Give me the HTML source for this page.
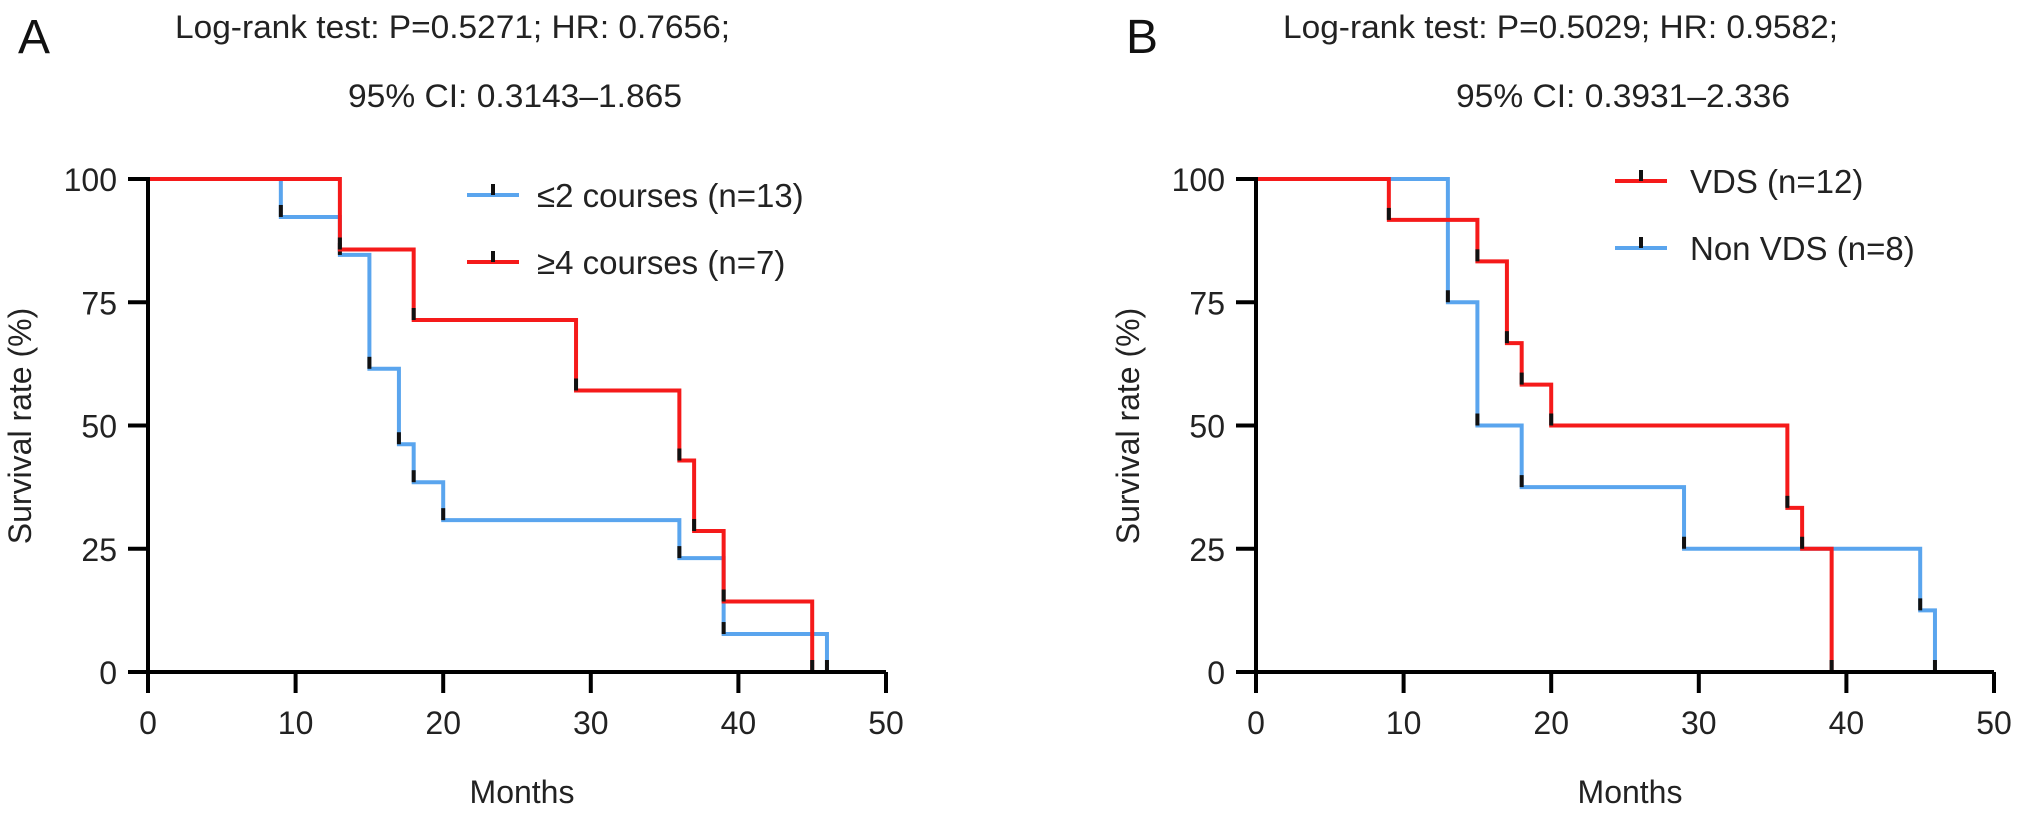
<!DOCTYPE html>
<html><head><meta charset="utf-8"><style>
html,body{margin:0;padding:0;background:#fff;}
svg{display:block;font-family:"Liberation Sans",Arial,sans-serif;}
</style></head><body>
<svg id="fig" width="2032" height="816" viewBox="0 0 2032 816" xmlns="http://www.w3.org/2000/svg"></svg>
<script>
// Panel A data
const monthTicks = [0,10,20,30,40,50];
const survTicks = [0,25,50,75,100];
const aBlueTimes = [0,9,13,15,17,18,20,36,39,46];
const aBlueSurv  = [100,92.3,84.6,61.5,46.2,38.5,30.8,23.1,7.7,0];
const aRedTimes  = [0,13,18,29,36,37,39,45];
const aRedSurv   = [100,85.7,71.4,57.1,42.9,28.6,14.3,0];
// Panel B data
const bRedTimes  = [0,9,15,17,18,20,36,37,39];
const bRedSurv   = [100,91.7,83.3,66.7,58.3,50,33.3,25,0];
const bBlueTimes = [0,13,15,18,29,45,46];
const bBlueSurv  = [100,75,50,37.5,25,12.5,0];

const NS='http://www.w3.org/2000/svg';
const svg=document.getElementById('fig');
const BLUE='#5aa5ee', RED='#f51a1a';
function el(tag,attrs,parent){const e=document.createElementNS(NS,tag);for(const k in attrs)e.setAttribute(k,attrs[k]);(parent||svg).appendChild(e);return e;}
function txt(s,attrs,parent){const e=el('text',attrs,parent);e.textContent=s;return e;}

function panel(cfg){
  const g=el('g',{});
  
  
  const x0=cfg.x0, x1=cfg.x0+738, yTop=179, yBot=672;
  const sx=m=>x0+m/50*(x1-x0);
  const sy=v=>yBot-v/100*(yBot-yTop);
  let t=txt(cfg.letter,{x:cfg.x0-130,y:53,'font-size':48,fill:'#111'},g);
  
  
  t=txt(cfg.t1,{x:cfg.x0+27,y:38,'font-size':32,fill:'#222',textLength:555,lengthAdjust:'spacingAndGlyphs'},g);
  
  
  t=txt(cfg.t2,{x:cfg.x0+200,y:107,'font-size':32,fill:'#222',textLength:334,lengthAdjust:'spacingAndGlyphs'},g);
  
  
  // curves
  cfg.series.forEach(s=>{
    let d='M'+sx(0)+','+sy(s.surv[0]);
    for(let i=1;i<s.times.length;i++){d+=' H'+sx(s.times[i])+' V'+sy(s.surv[i]);}
    const p=el('path',{d:d,fill:'none',stroke:s.color,'stroke-width':4},g);
    
    
    for(let i=1;i<s.times.length;i++){
      const m=el('line',{x1:sx(s.times[i]),x2:sx(s.times[i]),y1:sy(s.surv[i]),y2:sy(s.surv[i])-12,stroke:'#111','stroke-width':4},g);
      
      
    }
  });
  // axes
  let a=el('line',{x1:x0,x2:x0,y1:yTop-2,y2:yBot+2,stroke:'#000','stroke-width':4},g);
  
  
  a=el('line',{x1:x0-20,x2:x1,y1:yBot,y2:yBot,stroke:'#000','stroke-width':4},g);
  
  
  survTicks.forEach(v=>{
    const l=el('line',{x1:x0-20,x2:x0,y1:sy(v),y2:sy(v),stroke:'#000','stroke-width':4},g);
    
    
    const tt=txt(String(v),{x:x0-31,y:sy(v)+12,'font-size':32,'text-anchor':'end',fill:'#222'},g);
    
    
  });
  monthTicks.forEach(m=>{
    const l=el('line',{x1:sx(m),x2:sx(m),y1:yBot,y2:yBot+21,stroke:'#000','stroke-width':4},g);
    
    
    const tt=txt(String(m),{x:sx(m),y:734,'font-size':32,'text-anchor':'middle',fill:'#222'},g);
    
    
  });
  t=txt('Months',{x:(x0+x1)/2+5,y:803,'font-size':32,'text-anchor':'middle',fill:'#222'},g);
  
  
  const cy=426, cx=cfg.x0-117;
  t=txt('Survival rate (%)',{x:cx,y:cy,'font-size':32,'text-anchor':'middle',fill:'#222',transform:'rotate(-90 '+cx+' '+cy+')'},g);
  
  
  // legend
  cfg.legend.forEach((L,i)=>{
    const y=L.y;
    const lg=el('g',{},g);
    
    
    el('line',{x1:L.x,x2:L.x+52,y1:y,y2:y,stroke:L.color,'stroke-width':4},lg);
    el('line',{x1:L.x+26,x2:L.x+26,y1:y,y2:y-11,stroke:'#111','stroke-width':4},lg);
    txt(L.label,{x:L.x+L.gap,y:y+12,'font-size':33,fill:'#222'},lg);
  });
}

panel({name:'panel-a',letter:'A',x0:148,t1:'Log-rank test: P=0.5271; HR: 0.7656;',t2:'95% CI: 0.3143\u20131.865',
  series:[{id:'le2-courses',times:aBlueTimes,surv:aBlueSurv,color:BLUE},{id:'ge4-courses',times:aRedTimes,surv:aRedSurv,color:RED}],
  legend:[{x:467,y:195,color:BLUE,label:'\u22642 courses (n=13)',gap:70},{x:467,y:262,color:RED,label:'\u22654 courses (n=7)',gap:70}]});
panel({name:'panel-b',letter:'B',x0:1256,t1:'Log-rank test: P=0.5029; HR: 0.9582;',t2:'95% CI: 0.3931\u20132.336',
  series:[{id:'non-vds',times:bBlueTimes,surv:bBlueSurv,color:BLUE},{id:'vds',times:bRedTimes,surv:bRedSurv,color:RED}],
  legend:[{x:1615,y:181,color:RED,label:'VDS (n=12)',gap:75},{x:1615,y:248,color:BLUE,label:'Non VDS (n=8)',gap:75}]});
</script>
</body></html>
